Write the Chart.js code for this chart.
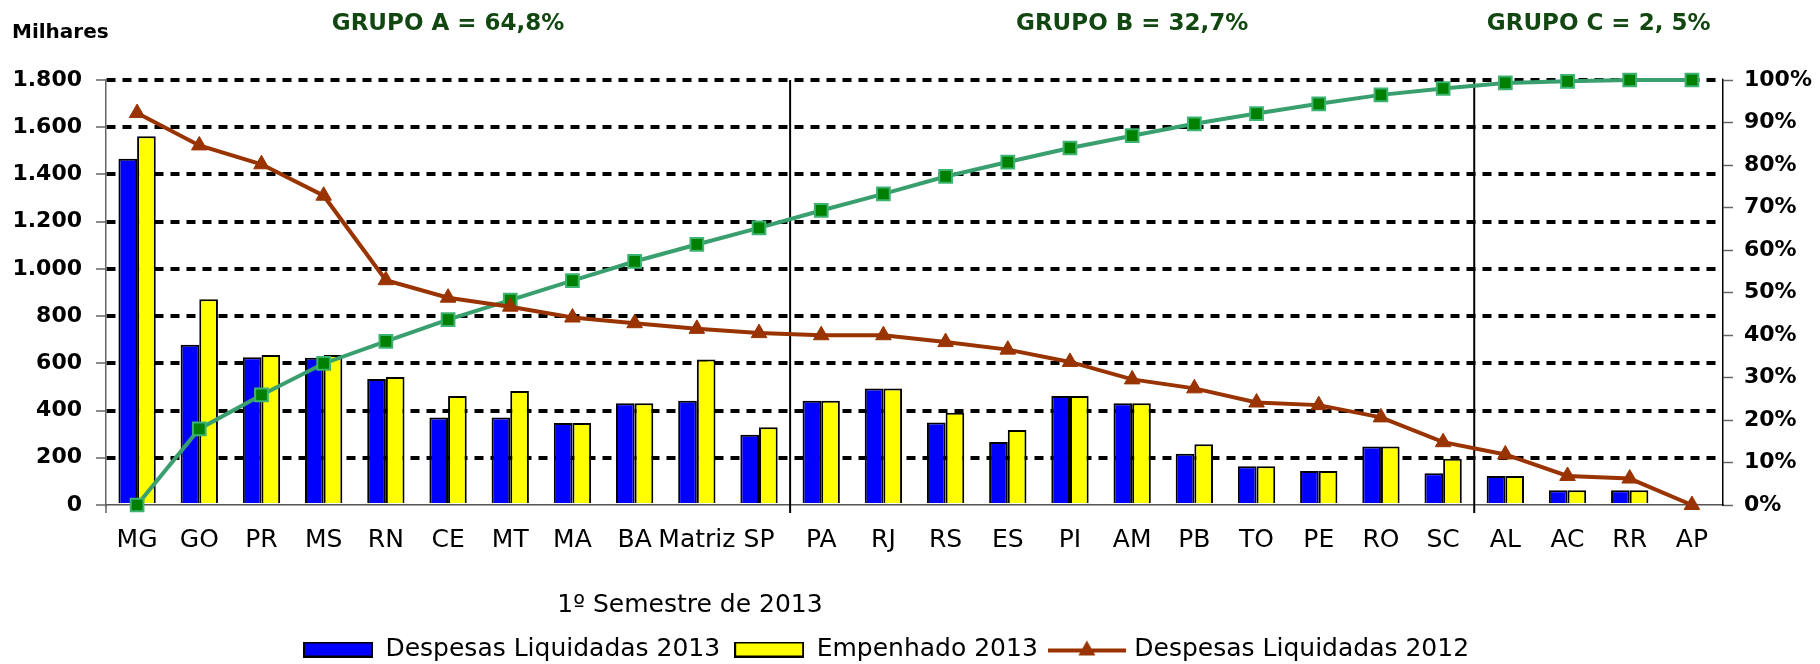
<!DOCTYPE html>
<html lang="pt-BR">
<head>
<meta charset="utf-8">
<title>Despesas por unidade - 1º Semestre de 2013</title>
<script src="https://cdn.jsdelivr.net/npm/chart.js@4.4.1/dist/chart.umd.min.js"></script>
<style>
  html, body { margin: 0; padding: 0; background: #fff; }
  #wrap { width: 1820px; height: 664px; position: relative; }
</style>
</head>
<body>
<div id="wrap"><canvas id="chart"></canvas></div>
<script>
const units = ['MG', 'GO', 'PR', 'MS', 'RN', 'CE', 'MT', 'MA', 'BA', 'Matriz', 'SP', 'PA', 'RJ',
  'RS', 'ES', 'PI', 'AM', 'PB', 'TO', 'PE', 'RO', 'SC', 'AL', 'AC', 'RR', 'AP'];
// valores em milhares
const liquidadas2013 = [1467, 679, 626, 624, 534, 371, 371, 347, 431, 442, 298, 442, 493,
  349, 267, 462, 431, 217, 164, 144, 248, 134, 123, 63, 63, 0];
const empenhado2013 = [1562, 871, 635, 635, 542, 462, 483, 347, 431, 616, 329, 442, 493,
  391, 318, 462, 431, 257, 164, 144, 248, 196, 123, 63, 63, 0];
const liquidadas2012 = [1660, 1523, 1443, 1310, 952, 878, 840, 794, 770, 746, 728, 719, 719,
  690, 658, 606, 532, 494, 434, 423, 371, 266, 214, 123, 112, 0];
// % acumulado (eixo da direita)
const acumulado = [0, 17.9, 25.9, 33.3, 38.5, 43.6, 48.2, 52.8, 57.3, 61.3, 65.2, 69.3, 73.2,
  77.3, 80.7, 84.0, 86.9, 89.7, 92.1, 94.4, 96.5, 98.0, 99.3, 99.7, 100, 100];
const groupLabels = ['GRUPO A = 64,8%', 'GRUPO B = 32,7%', 'GRUPO C = 2, 5%'];
const groupStart = [0, 11, 22];
const groupEnd = [10, 21, 25];

const FONT = 'DejaVu Sans';
const BROWN = '#993300';

const fmtMil = v => v >= 1000 ? Math.floor(v / 1000) + '.' + String(v % 1000).padStart(3, '0') : String(v);

function boxIcon(color) {
  const c = document.createElement('canvas');
  c.width = 70; c.height = 16;
  const g = c.getContext('2d');
  g.fillStyle = color;
  g.fillRect(1, 1, 68, 14);
  g.lineWidth = 2;
  g.strokeStyle = '#000';
  g.strokeRect(1, 1, 68, 14);
  return c;
}

function lineIcon(color) {
  const c = document.createElement('canvas');
  c.width = 78; c.height = 22;
  const g = c.getContext('2d');
  g.strokeStyle = color;
  g.lineWidth = 4;
  g.beginPath(); g.moveTo(0, 12); g.lineTo(78, 12); g.stroke();
  g.fillStyle = color;
  g.beginPath(); g.moveTo(39, 2); g.lineTo(30.5, 17); g.lineTo(47.5, 17); g.closePath(); g.fill();
  return c;
}

const legendIcons = [boxIcon('#0000ff'), boxIcon('#ffff00'), lineIcon(BROWN)];

const extras = {
  id: 'extras',
  afterLayout(chart) {
    // legenda um pouco deslocada para a esquerda, como no original
    chart.legend.left -= 24;
    chart.legend.right -= 24;
  },
  beforeDatasetsDraw(chart) {
    const { ctx, chartArea, scales: { x } } = chart;
    ctx.save();
    ctx.strokeStyle = '#000';
    ctx.lineWidth = 2;
    groupStart.slice(1).forEach(i => {
      const px = (x.getPixelForValue(i - 1) + x.getPixelForValue(i)) / 2;
      ctx.beginPath();
      ctx.moveTo(px, chartArea.top);
      ctx.lineTo(px, chartArea.bottom + 8);
      ctx.stroke();
    });
    ctx.strokeStyle = '#666';
    ctx.lineWidth = 1.5;
    ctx.beginPath();
    ctx.moveTo(chartArea.left, chartArea.bottom);
    ctx.lineTo(chartArea.left, chartArea.bottom + 8);
    ctx.stroke();
    ctx.restore();
  },
  afterDraw(chart) {
    const { ctx, scales: { x } } = chart;
    ctx.save();
    ctx.textBaseline = 'middle';
    ctx.fillStyle = '#124712';
    ctx.textAlign = 'center';
    ctx.font = 'bold 23px "' + FONT + '"';
    groupLabels.forEach((t, i) => {
      const cx = (x.getPixelForValue(groupStart[i]) + x.getPixelForValue(groupEnd[i])) / 2;
      ctx.fillText(t, cx, 24);
    });
    ctx.fillStyle = '#000';
    ctx.textAlign = 'left';
    ctx.font = 'bold 20px "' + FONT + '"';
    ctx.fillText('Milhares', 12, 33);
    ctx.textAlign = 'center';
    ctx.font = '25px "' + FONT + '"';
    ctx.fillText('1º Semestre de 2013', 690, 605);
    ctx.restore();
  }
};

new Chart(document.getElementById('chart'), {
  data: {
    labels: units,
    datasets: [
      {
        type: 'bar', label: 'Despesas Liquidadas 2013', data: liquidadas2013,
        backgroundColor: '#0000ff', borderColor: '#000', borderWidth: 2,
        categoryPercentage: 0.6, barPercentage: 1, yAxisID: 'y', order: 3
      },
      {
        type: 'bar', label: 'Empenhado 2013', data: empenhado2013,
        backgroundColor: '#ffff00', borderColor: '#000', borderWidth: 2,
        categoryPercentage: 0.6, barPercentage: 1, yAxisID: 'y', order: 3
      },
      {
        type: 'line', label: 'Despesas Liquidadas 2012', data: liquidadas2012,
        borderColor: BROWN, backgroundColor: BROWN, borderWidth: 4,
        pointStyle: 'triangle', pointRadius: 9, pointBackgroundColor: BROWN,
        pointBorderColor: BROWN, pointBorderWidth: 1, yAxisID: 'y', order: 1, clip: false
      },
      {
        type: 'line', label: 'Acumulado', data: acumulado,
        borderColor: '#3a9f6e', backgroundColor: '#008000', borderWidth: 4,
        pointStyle: 'rect', pointRadius: 9, pointBackgroundColor: '#008000',
        pointBorderColor: '#3cb371', pointBorderWidth: 2, yAxisID: 'y1', order: 2, clip: false
      }
    ]
  },
  options: {
    responsive: true,
    maintainAspectRatio: false,
    animation: false,
    layout: { padding: { left: 0, right: 0, top: 80, bottom: -8 } },
    scales: {
      x: {
        offset: true,
        grid: { display: false, drawTicks: false },
        border: { display: true, color: '#555', width: 1.5 },
        ticks: {
          color: '#000', font: { family: FONT, size: 25 }, padding: 20,
          maxRotation: 0, minRotation: 0, autoSkip: false
        },
        afterFit: s => { s.height = 118; }
      },
      y: {
        position: 'left', min: 0, max: 1800,
        ticks: {
          stepSize: 200, color: '#000', padding: 14,
          font: { family: FONT, size: 22, weight: 'bold' }, callback: fmtMil
        },
        grid: {
          color: c => (c.tick && c.tick.value === 0) ? 'rgba(0,0,0,0)' : '#000',
          lineWidth: 4, tickColor: '#666', tickWidth: 1.5, tickLength: 10
        },
        border: { display: true, color: '#666', width: 1.5, dash: [9, 7] },
        afterFit: s => { s.width = 106; }
      },
      y1: {
        position: 'right', min: 0, max: 100,
        ticks: {
          stepSize: 10, color: '#000', padding: 11,
          font: { family: FONT, size: 22, weight: 'bold' }, callback: v => v + '%'
        },
        grid: { drawOnChartArea: false, tickColor: '#666', tickWidth: 1.5, tickLength: 10 },
        border: { display: true, color: '#000', width: 1.5 },
        afterFit: s => { s.width = 97; }
      }
    },
    plugins: {
      tooltip: { enabled: false },
      legend: {
        position: 'bottom',
        labels: {
          usePointStyle: true, pointStyleWidth: 70, boxHeight: 16, padding: 14,
          color: '#000', font: { family: FONT, size: 25 },
          generateLabels: chart => Chart.defaults.plugins.legend.labels.generateLabels(chart)
            .filter(it => it.datasetIndex < 3)
            .map(it => Object.assign(it, { pointStyle: legendIcons[it.datasetIndex] })),
          sort: (a, b) => a.datasetIndex - b.datasetIndex
        }
      }
    }
  },
  plugins: [extras]
});
</script>
</body>
</html>
